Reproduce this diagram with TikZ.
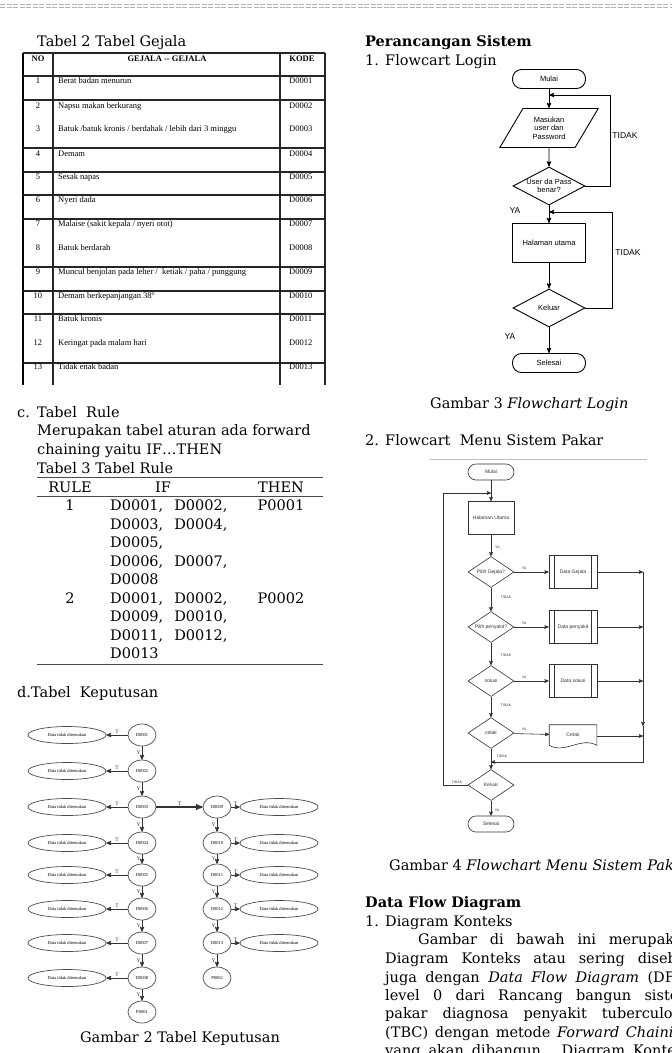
\documentclass[tikz,border=0pt]{standalone}
\usepackage{fontspec}
\setmainfont{DejaVu Serif}
\newfontfamily\tabfont{Liberation Serif}
\newfontfamily\flowfont{Liberation Sans}
\usetikzlibrary{arrows,shapes,positioning}

\tikzset{
  txt/.style={anchor=base west,inner sep=0pt,font=\fontsize{14.5}{18}\selectfont},
  head/.style={txt,font=\fontsize{14.5}{18}\selectfont\bfseries},
  cell/.style={inner sep=0pt,font=\tabfont\fontsize{8.5}{10}\selectfont},
  cellhead/.style={cell,font=\tabfont\fontsize{8.5}{10}\selectfont\bfseries},
  gridline/.style={line width=1.1pt,black!85},
  ruleline/.style={line width=0.8pt,black!70},
  dnode/.style={shape=ellipse,draw=black!70,line width=0.7pt,minimum width=28pt,minimum height=22pt,inner sep=0pt,font=\tabfont\fontsize{4.5}{5}\selectfont},
  dout/.style={dnode,minimum width=78pt,minimum height=17pt},
  dlab/.style={font=\tabfont\fontsize{5.5}{6}\selectfont,inner sep=1pt,text=black!80},
  darrow/.style={->,line width=0.8pt,black!80},
  flow/.style={draw,line width=0.9pt,font=\flowfont\fontsize{7.5}{8.5}\selectfont,inner sep=0pt,align=center},
  term/.style={flow,rounded corners=9pt,minimum width=73pt,minimum height=19pt},
  inbox/.style={flow,trapezium,trapezium left angle=57,trapezium right angle=123,trapezium stretches=true,minimum width=99pt,minimum height=39pt},
  procbox/.style={flow,minimum width=73pt,minimum height=39pt},
  dia/.style={flow,diamond,minimum width=72pt,minimum height=38pt},
  dtext/.style={font=\flowfont\fontsize{7.5}{8.5}\selectfont,align=center,inner sep=0pt},
  flab/.style={font=\flowfont\fontsize{8.5}{9}\selectfont,inner sep=0pt},
  farrow/.style={->,line width=0.9pt},
  mflow/.style={draw,line width=0.6pt,black!80,font=\flowfont\fontsize{5}{6}\selectfont,inner sep=0pt,align=center},
  mterm/.style={mflow,rounded corners=8pt,minimum width=46pt,minimum height=16pt},
  mproc/.style={mflow,minimum width=46pt,minimum height=33pt},
  mdia/.style={mflow,diamond,minimum width=46pt,minimum height=31pt},
  mdtext/.style={font=\flowfont\fontsize{5}{6}\selectfont,inner sep=0pt,text=black!80},
  msub/.style={mflow,minimum width=48pt,minimum height=33pt},
  mlab/.style={font=\flowfont\fontsize{3.5}{4}\selectfont,inner sep=0pt,text=black!80},
  marrow/.style={->,line width=0.6pt,black!80},
}

\begin{document}
\begin{tikzpicture}[x=1pt,y=-1pt,>=stealth']
\useasboundingbox (0,0) rectangle (672,1053);
\fill[white] (0,0) rectangle (672,1053);

% page header rule
\draw[gray!60,dash pattern=on 5pt off 1.5pt] (0,4) -- (672,4);
\draw[gray!60,dash pattern=on 5pt off 1.5pt] (0,7) -- (672,7);

% ---------- Tabel Gejala ----------
\node[txt] (capgejala) at (37,46) {Tabel 2 Tabel Gejala};
\draw[line width=1.6pt] (23,53) -- (23,385);
\foreach \x in {53,280,325}
  \draw[gridline] (\x,53) -- (\x,385);
\foreach \y in {53,76,100,148,172,195,219,267,291,314,363}
  \draw[gridline] (23,\y) -- (325,\y);
\node[cellhead] (hno) at (38,59) {NO};
\node[cellhead] (hgj) at (167,59) {GEJALA -- GEJALA};
\node[cellhead] (hkd) at (302,59) {KODE};
\foreach \n/\g/\k/\y in {
  1/{Berat badan menurun}/D0001/81,
  2/{Napsu makan berkurang}/D0002/106,
  3/{Batuk /batuk kronis / berdahak / lebih dari 3 minggu}/D0003/129,
  4/{Demam}/D0004/154,
  5/{Sesak napas}/D0005/177,
  6/{Nyeri dada}/D0006/200,
  7/{Malaise (sakit kepala / nyeri otot)}/D0007/224,
  8/{Batuk berdarah}/D0008/248,
  9/{Muncul benjolan pada leher /\ \ ketiak / paha / punggung}/D0009/272,
  10/{Demam berkepanjangan 38\textsuperscript{o}}/D0010/296,
  11/{Batuk kronis}/D0011/319,
  12/{Keringat pada malam hari}/D0012/343,
  13/{Tidak enak badan}/D0013/367}{
  \node[cell] (no\n) at (38,\y) {\n};
  \node[cell,anchor=west] (gj\n) at (58,\y) {\g};
  \node[cell,anchor=west] (kd\n) at (289,\y) {\k};
}

% ---------- Tabel Rule ----------
\node[txt] (itemc) at (17,417) {c.};
\node[txt] (titc) at (37,417) {Tabel\ \ Rule};
\node[txt] (parc1) at (37,435) {Merupakan tabel aturan ada forward};
\node[txt] (parc2) at (37,454) {chaining yaitu IF…THEN};
\node[txt] (caprule) at (37,473) {Tabel 3 Tabel Rule};
\draw[ruleline] (37,477) -- (323,477);
\draw[ruleline] (37,496) -- (323,496);
\draw[ruleline] (37,664) -- (323,664);
\node[txt,anchor=base] (hrule) at (70,492) {RULE};
\node[txt,anchor=base] (hif) at (163,492) {IF};
\node[txt,anchor=base] (hthen) at (281,492) {THEN};
\node[txt,anchor=base] (r1) at (70,510) {1};
\node[txt,anchor=base] (t1) at (281,510) {P0001};
\node[txt,anchor=base] (r2) at (70,603) {2};
\node[txt,anchor=base] (t2) at (281,603) {P0002};
\foreach \s/\y in {{D0001,\hspace{11pt}D0002,}/510,{D0003,\hspace{11pt}D0004,}/529,{D0005,}/547,
  {D0006,\hspace{11pt}D0007,}/566,{D0008}/584,{D0001,\hspace{11pt}D0002,}/603,
  {D0009,\hspace{11pt}D0010,}/621,{D0011,\hspace{11pt}D0012,}/640,{D0013}/658}
  \node[txt] (if\y) at (110,\y) {\s};

% ---------- Tabel Keputusan ----------
\node[txt] (itemd) at (17,697) {d.Tabel\ \ Keputusan};
\foreach \k/\y in {1/735,2/771,3/807,4/843,5/875,6/909,7/943,8/978}{
  \node[dnode] (d\k) at (142,\y) {D000\k};
  \node[dout] (n\k) at (67,\y) {Data tidak ditemukan};
  \draw[darrow] (d\k) -- node[above,dlab]{T} (n\k);
}
\node[dnode] (p1) at (142,1012) {P0001};
\foreach \k/\y in {9/807,10/843,11/875,12/909,13/943}{
  \node[dnode] (d\k) at (217,\y) {\ifnum\k<10 D000\k\else D00\k\fi};
  \node[dout] (n\k) at (279,\y) {Data tidak ditemukan};
  \draw[darrow] (d\k) -- node[above,dlab]{T} (n\k);
}
\node[dnode] (p2) at (217,978) {P0002};
\foreach \a/\b in {1/d2,2/d3,3/d4,4/d5,5/d6,6/d7,7/d8,8/p1,9/d10,10/d11,11/d12,12/d13,13/p2}
  \draw[darrow] (d\a) -- node[left,dlab]{Y} (\b);
\draw[darrow,line width=1.4pt] (d3) -- node[above,dlab]{T} (d9);
\node[txt,anchor=base] (capkep) at (180,1042) {Gambar 2 Tabel Keputusan};

% ---------- Flowchart Login ----------
\node[head] (perancangan) at (365,46) {Perancangan Sistem};
\node[txt] (item1) at (365,65) {1.};
\node[txt] (tit1) at (385,65) {Flowcart Login};
\node[term] (mulaiA) at (549,79) {Mulai};
\node[inbox] (input) at (549,128) {Masukan\\user dan\\Password};
\node[dia,label={[dtext]center:User da Pass\\benar?}] (cekA) at (549,186) {};
\node[procbox] (halA) at (549,243) {Halaman utama};
\node[dia,label={[dtext]center:Keluar}] (klrA) at (549,308) {};
\node[term] (slsA) at (549,363) {Selesai};
\coordinate (jA1) at (549,95);
\coordinate (jA2) at (549,212);
\draw[farrow] (mulaiA) -- (input);
\draw[farrow] (input) -- (cekA);
\draw[farrow] (cekA) -- (halA);
\draw[farrow] (halA) -- (klrA);
\draw[farrow] (klrA) -- (slsA);
\draw[farrow] (cekA.east) -- ++(25,0) |- (jA1);
\draw[farrow] (klrA.east) -- ++(27,0) |- (jA2);
\node[flab] (tdA1) at (625,136) {TIDAK};
\node[flab] (tdA2) at (628,253) {TIDAK};
\node[flab] (yaA1) at (515,211) {YA};
\node[flab] (yaA2) at (510,337) {YA};
\node[txt] (caplogin) at (430,408) {Gambar 3 \textit{Flowchart Login}};

% ---------- Flowchart Menu ----------
\node[txt] (item2) at (365,445) {2.};
\node[txt] (tit2) at (385,445) {Flowcart\ \ Menu Sistem Pakar};
\draw[gray!50,line width=0.6pt] (430,459) -- (647,459);
\node[mterm] (mulaiB) at (491,472) {Mulai};
\node[mproc] (halB) at (491,518) {Halaman Utama};
\node[mdia,label={[mdtext]center:Pilih Gejala?}] (pg) at (491,572) {};
\node[mdia,label={[mdtext]center:Pilih penyakit?}] (pp) at (491,627) {};
\node[mdia,label={[mdtext]center:solusi}] (sl) at (491,681) {};
\node[mdia,label={[mdtext]center:cetak}] (ct) at (491,733) {};
\node[mdia,label={[mdtext]center:Keluar}] (kb) at (491,785) {};
\node[mterm] (sb) at (491,824) {Selesai};
\node[msub] (dg) at (573,572) {Data Gejala};
\node[msub] (dp) at (573,627) {Data penyakit};
\node[msub] (ds) at (573,681) {Data solusi};
\foreach \b in {dg,dp,ds}{
  \draw[line width=0.6pt,black!80] ([xshift=6pt]\b.north west) -- ([xshift=6pt]\b.south west);
  \draw[line width=0.6pt,black!80] ([xshift=-6pt]\b.north east) -- ([xshift=-6pt]\b.south east);
}
\node[mflow,draw=none,minimum width=47pt,minimum height=20pt] (ctk) at (573,735) {Cetak};
\draw[line width=0.6pt,black!80] (ctk.south west) -- (ctk.north west) -- (ctk.north east) -- (ctk.south east)
  .. controls +(-16,-9) and +(16,9) .. (ctk.south west);
\coordinate (jB1) at (491,493);
\coordinate (jB2) at (491,762);
\coordinate (bus1) at (643,572);
\coordinate (bus2) at (643,627);
\coordinate (bus3) at (643,681);
\coordinate (bus4) at (643,736);
\coordinate (busm) at (643,726);
\coordinate (bus5) at (643,762);
\draw[marrow] (mulaiB) -- (halB);
\draw[marrow] (halB) -- (pg);
\draw[marrow] (pg) -- (pp);
\draw[marrow] (pp) -- (sl);
\draw[marrow] (sl) -- (ct);
\draw[marrow] (ct) -- (kb);
\draw[marrow] (kb) -- (sb);
\draw[marrow] (pg) -- (dg);
\draw[marrow] (pp) -- (dp);
\draw[marrow] (sl) -- (ds);
\draw[marrow] (ct) -- (ctk);
\draw[marrow] (dg) -- (bus1);
\draw[marrow] (dp) -- (bus2);
\draw[marrow] (ds) -- (bus3);
\draw[marrow] (ctk.east |- bus4) -- (bus4);
\draw[marrow] (bus1) -- (busm);
\draw[marrow] (busm) -- (bus5) -- (jB2);
\draw[marrow] (kb.west) -- ++(-24,0) |- (jB1);
\node[mlab,anchor=west] (yaB0) at (495,547) {YA};
\node[mlab] (yaB1) at (524,568) {YA};
\node[mlab] (yaB2) at (524,623) {YA};
\node[mlab] (yaB3) at (524,677) {YA};
\node[mlab] (yaB4) at (524,729) {YA};
\node[mlab] (tdB1) at (506,597) {TIDAK};
\node[mlab] (tdB2) at (506,655) {TIDAK};
\node[mlab] (tdB3) at (506,705) {TIDAK};
\node[mlab] (tdB4) at (502,756) {TIDAK};
\node[mlab] (tdB5) at (457,782) {TIDAK};
\node[mlab] (yaB5) at (497,810) {YA};
\node[txt] (capmenu) at (389,870) {Gambar 4 \textit{Flowchart Menu Sistem Pakar}};

% ---------- Data Flow Diagram ----------
\node[head] (dfd) at (365,907) {Data Flow Diagram};
\node[txt] (item3) at (365,926) {1.};
\node[txt] (tit3) at (385,926) {Diagram Konteks};
\node[txt] (pr1) at (418,944) {\makebox[274pt][s]{Gambar di bawah ini merupakan}};
\node[txt] (pr2) at (385,963) {\makebox[307pt][s]{Diagram Konteks atau sering disebut}};
\node[txt] (pr3) at (385,982) {\makebox[307pt][s]{juga dengan \textit{Data Flow Diagram} (DFD)}};
\node[txt] (pr4) at (385,1000) {\makebox[307pt][s]{level 0 dari Rancang bangun sistem}};
\node[txt] (pr5) at (385,1018) {\makebox[307pt][s]{pakar diagnosa penyakit tuberculosis}};
\node[txt] (pr6) at (385,1037) {\makebox[307pt][s]{(TBC) dengan metode \textit{Forward Chaining}}};
\node[txt] (pr7) at (385,1055) {\makebox[307pt][s]{yang akan dibangun. Diagram Konteks}};
\end{tikzpicture}
\end{document}
